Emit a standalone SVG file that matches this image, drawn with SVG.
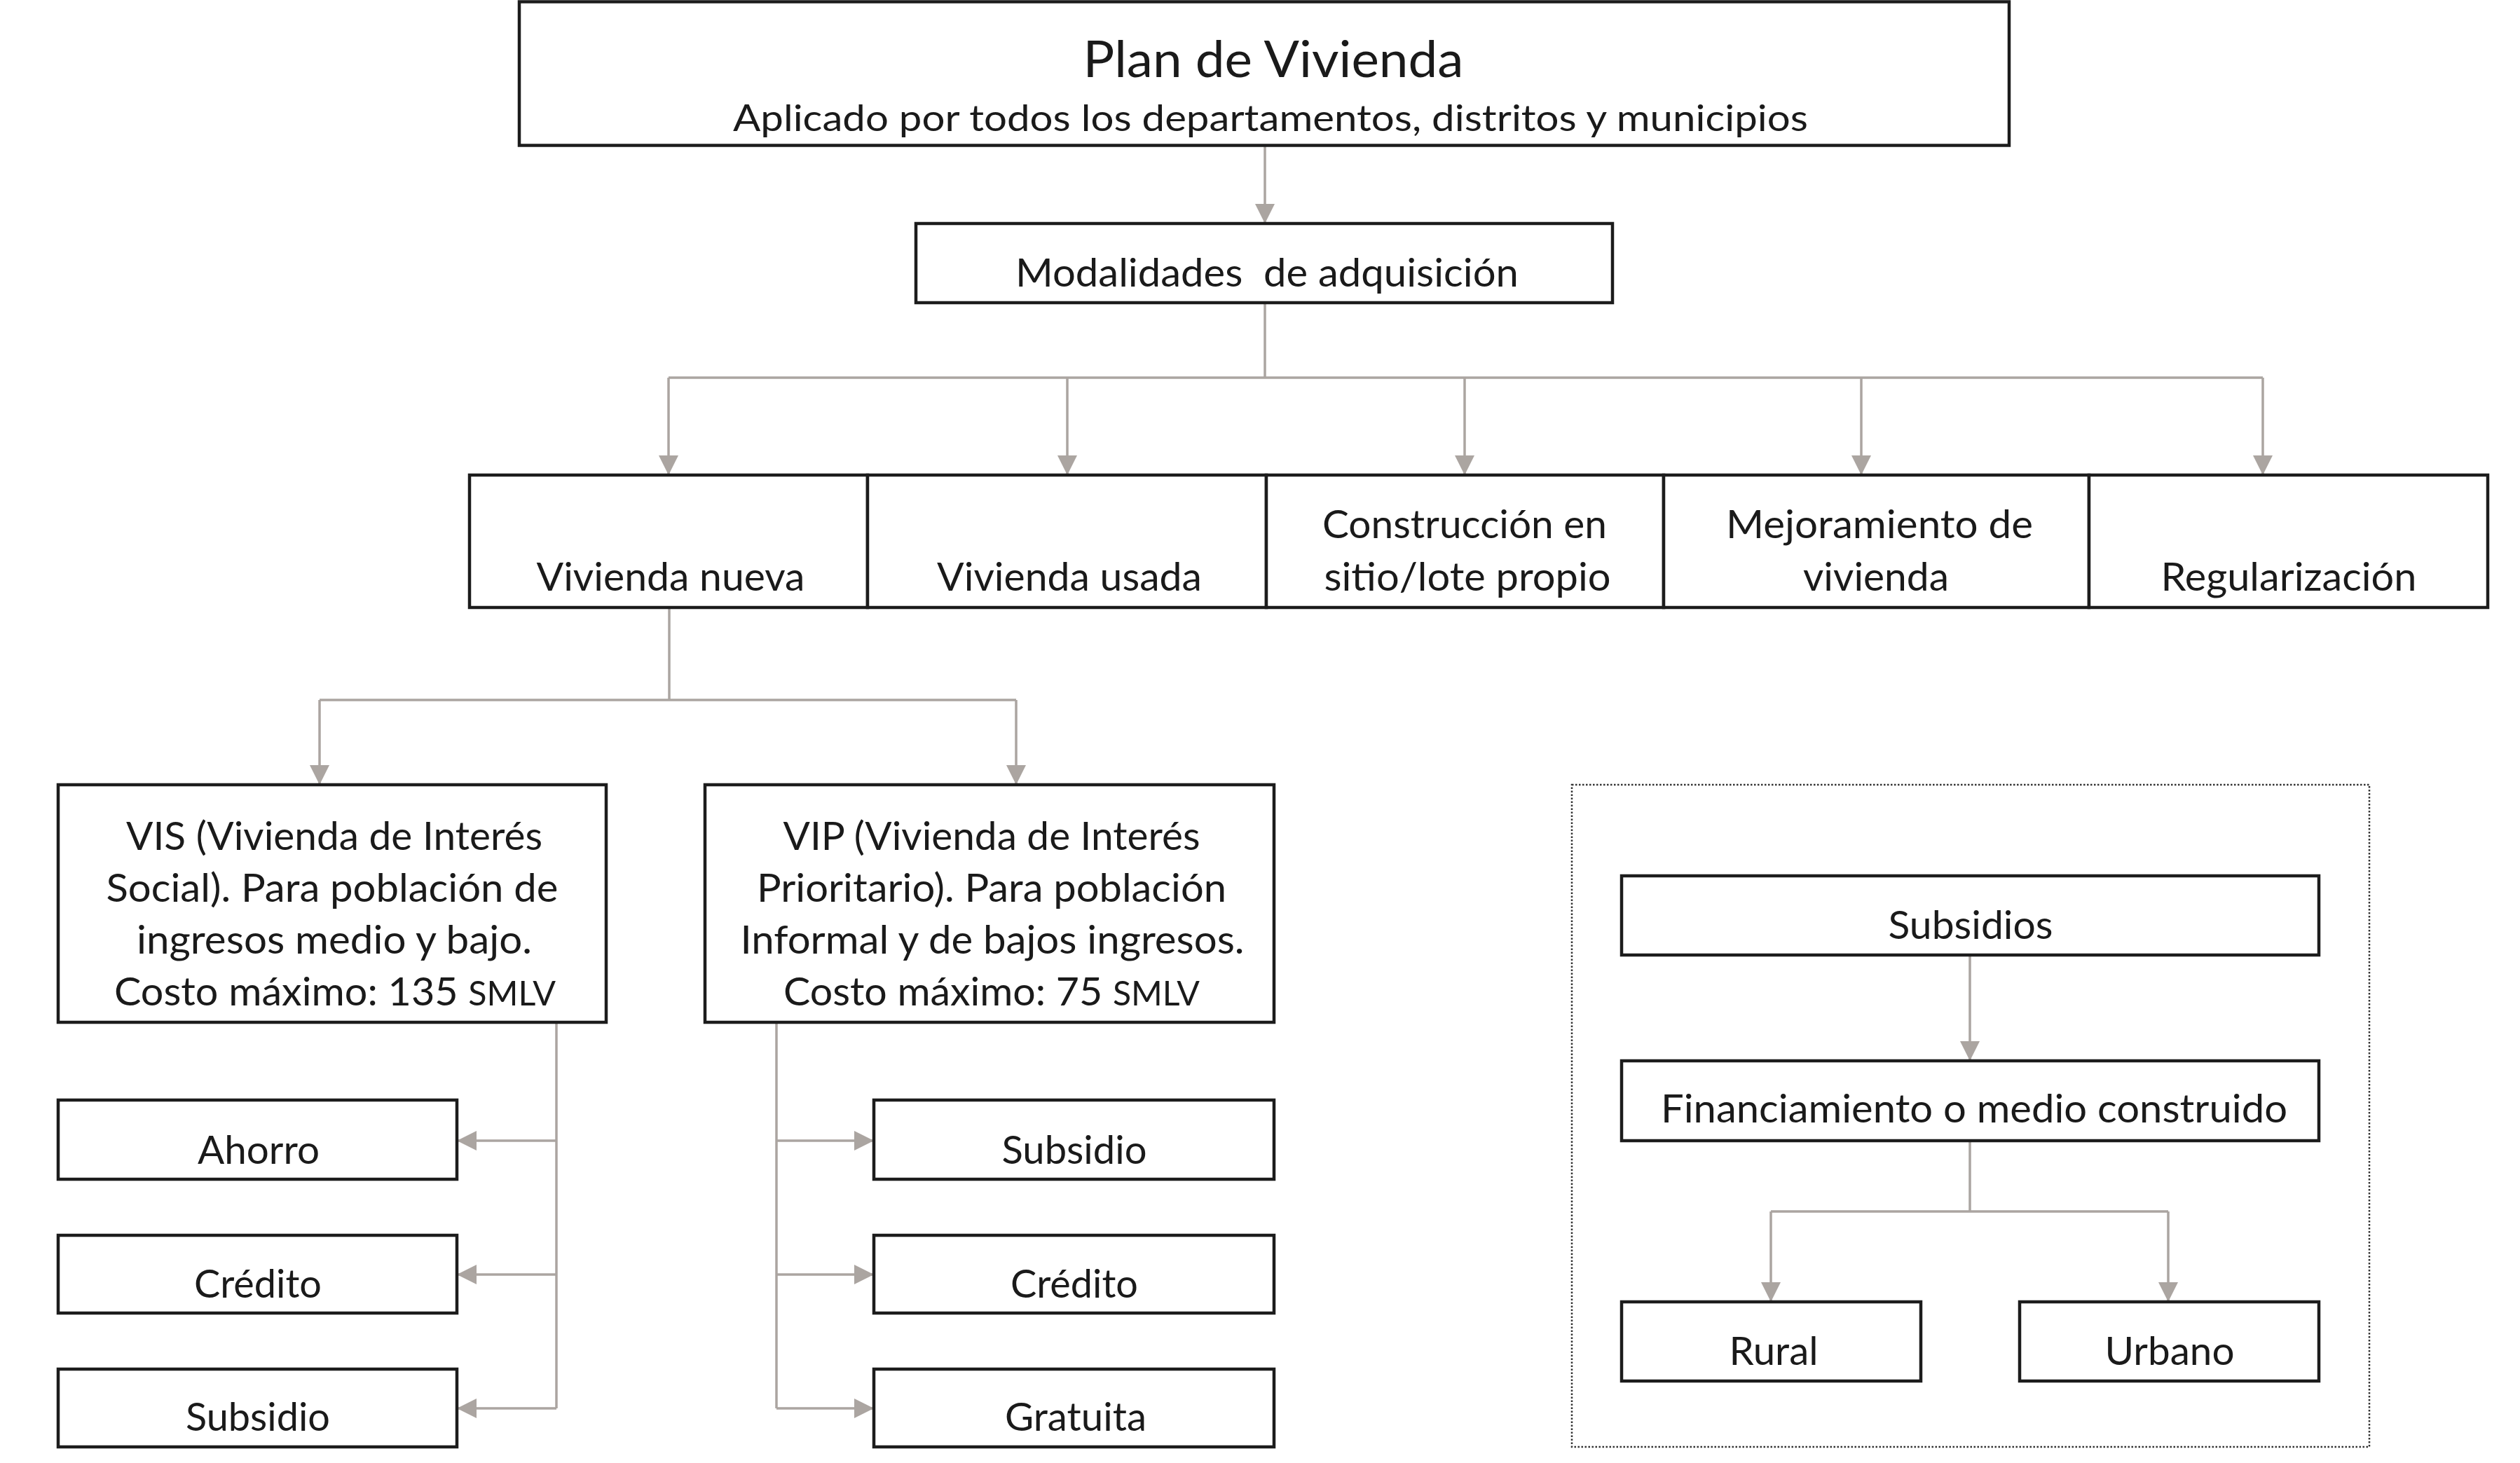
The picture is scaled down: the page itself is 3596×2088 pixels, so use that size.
<svg xmlns="http://www.w3.org/2000/svg" width="3596" height="2088" viewBox="0 0 3596 2088">
<style>
.box{fill:#fff;stroke:#1c1c1c;stroke-width:4.5}
.dot{fill:none;stroke:#333;stroke-width:2.5;stroke-dasharray:2.5 2.5}
.t{font-family:Lato,"Open Sans","Liberation Sans",sans-serif;font-size:57px;fill:#1a1a1a;text-anchor:middle}
.title{font-size:72px}
.sub{font-size:53px}
.sm{font-size:48px}
.con{fill:none;stroke:#aba5a1;stroke-width:3.5}
</style>
<defs>
<marker id="ah" viewBox="0 0 28 28" refX="28" refY="14" markerWidth="28" markerHeight="28" markerUnits="userSpaceOnUse" orient="auto">
<path d="M0,0 L28,14 L0,28 z" fill="#aba5a1"/>
</marker>
</defs>
<rect width="3596" height="2088" fill="#fff"/>

<g id="connectors">
<path class="con" d="M1805,209 V319" marker-end="url(#ah)"/>
<path class="con" d="M1805,431 V539 M954,539 H3229"/>
<path class="con" d="M954,539 V678" marker-end="url(#ah)"/>
<path class="con" d="M1523,539 V678" marker-end="url(#ah)"/>
<path class="con" d="M2090,539 V678" marker-end="url(#ah)"/>
<path class="con" d="M2656,539 V678" marker-end="url(#ah)"/>
<path class="con" d="M3229,539 V678" marker-end="url(#ah)"/>
<path class="con" d="M955,867 V999 M456,999 H1450"/>
<path class="con" d="M456,999 V1120" marker-end="url(#ah)"/>
<path class="con" d="M1450,999 V1120" marker-end="url(#ah)"/>
<path class="con" d="M794,1459 V2010"/>
<path class="con" d="M794,1628 H652" marker-end="url(#ah)"/>
<path class="con" d="M794,1819 H652" marker-end="url(#ah)"/>
<path class="con" d="M794,2010 H652" marker-end="url(#ah)"/>
<path class="con" d="M1108,1459 V2010"/>
<path class="con" d="M1108,1628 H1247" marker-end="url(#ah)"/>
<path class="con" d="M1108,1819 H1247" marker-end="url(#ah)"/>
<path class="con" d="M1108,2010 H1247" marker-end="url(#ah)"/>
<path class="con" d="M2811,1363 V1514" marker-end="url(#ah)"/>
<path class="con" d="M2811,1628 V1729 M2527,1729 H3094"/>
<path class="con" d="M2527,1729 V1858" marker-end="url(#ah)"/>
<path class="con" d="M3094,1729 V1858" marker-end="url(#ah)"/>
</g>

<g id="plan">
<rect class="box" x="741" y="2.5" width="2126" height="205" stroke-width="5"/>
<text class="t title" x="1817" y="110" textLength="543" lengthAdjust="spacingAndGlyphs">Plan de Vivienda</text>
<text class="t sub" x="1813" y="187" textLength="1534" lengthAdjust="spacingAndGlyphs">Aplicado por todos los departamentos, distritos y municipios</text>
</g>

<g id="modalidades">
<rect class="box" x="1307" y="319" width="994" height="113"/>
<text class="t" x="1808" y="409" textLength="718" lengthAdjust="spacingAndGlyphs" xml:space="preserve">Modalidades  de adquisición</text>
</g>

<g id="vivienda-nueva">
<rect class="box" x="670" y="678" width="568" height="189"/>
<text class="t" x="957" y="843" textLength="383" lengthAdjust="spacingAndGlyphs">Vivienda nueva</text>
</g>
<g id="vivienda-usada">
<rect class="box" x="1238" y="678" width="569" height="189"/>
<text class="t" x="1526" y="843" textLength="378" lengthAdjust="spacingAndGlyphs">Vivienda usada</text>
</g>
<g id="construccion">
<rect class="box" x="1807" y="678" width="567" height="189"/>
<text class="t" x="2090" y="768" textLength="406" lengthAdjust="spacingAndGlyphs">Construcción en</text>
<text class="t" x="2094" y="843" textLength="409" lengthAdjust="spacingAndGlyphs">sitio/lote propio</text>
</g>
<g id="mejoramiento">
<rect class="box" x="2374" y="678" width="607" height="189"/>
<text class="t" x="2682" y="768" textLength="438" lengthAdjust="spacingAndGlyphs">Mejoramiento de</text>
<text class="t" x="2677" y="843" textLength="208" lengthAdjust="spacingAndGlyphs">vivienda</text>
</g>
<g id="regularizacion">
<rect class="box" x="2981" y="678" width="569" height="189"/>
<text class="t" x="3266" y="843" textLength="365" lengthAdjust="spacingAndGlyphs">Regularización</text>
</g>

<g id="vis">
<rect class="box" x="83" y="1120" width="782" height="339"/>
<text class="t" x="477" y="1213" textLength="594" lengthAdjust="spacingAndGlyphs">VIS (Vivienda de Interés</text>
<text class="t" x="474" y="1287" textLength="645" lengthAdjust="spacingAndGlyphs">Social). Para población de</text>
<text class="t" x="477" y="1361" textLength="564" lengthAdjust="spacingAndGlyphs">ingresos medio y bajo.</text>
<text class="t" x="478" y="1435" textLength="630" lengthAdjust="spacingAndGlyphs">Costo máximo: 135 <tspan class="sm">SMLV</tspan></text>
</g>

<g id="vip">
<rect class="box" x="1006" y="1120" width="812" height="339"/>
<text class="t" x="1415" y="1213" textLength="595" lengthAdjust="spacingAndGlyphs">VIP (Vivienda de Interés</text>
<text class="t" x="1415" y="1287" textLength="670" lengthAdjust="spacingAndGlyphs">Prioritario). Para población</text>
<text class="t" x="1416" y="1361" textLength="719" lengthAdjust="spacingAndGlyphs">Informal y de bajos ingresos.</text>
<text class="t" x="1415" y="1435" textLength="594" lengthAdjust="spacingAndGlyphs">Costo máximo: 75 <tspan class="sm">SMLV</tspan></text>
</g>

<g id="vis-ahorro">
<rect class="box" x="83" y="1570" width="569" height="113"/>
<text class="t" x="369" y="1661" textLength="174" lengthAdjust="spacingAndGlyphs">Ahorro</text>
</g>
<g id="vis-credito">
<rect class="box" x="83" y="1763" width="569" height="111"/>
<text class="t" x="368" y="1852" textLength="182" lengthAdjust="spacingAndGlyphs">Crédito</text>
</g>
<g id="vis-subsidio">
<rect class="box" x="83" y="1954" width="569" height="111"/>
<text class="t" x="368" y="2042" textLength="206" lengthAdjust="spacingAndGlyphs">Subsidio</text>
</g>

<g id="vip-subsidio">
<rect class="box" x="1247" y="1570" width="571" height="113"/>
<text class="t" x="1533" y="1661" textLength="207" lengthAdjust="spacingAndGlyphs">Subsidio</text>
</g>
<g id="vip-credito">
<rect class="box" x="1247" y="1763" width="571" height="111"/>
<text class="t" x="1533" y="1852" textLength="182" lengthAdjust="spacingAndGlyphs">Crédito</text>
</g>
<g id="vip-gratuita">
<rect class="box" x="1247" y="1954" width="571" height="111"/>
<text class="t" x="1535" y="2042" textLength="202" lengthAdjust="spacingAndGlyphs">Gratuita</text>
</g>

<g id="panel">
<rect class="dot" x="2243" y="1120" width="1138" height="945"/>
</g>
<g id="subsidios">
<rect class="box" x="2314" y="1250" width="995" height="113"/>
<text class="t" x="2812" y="1340" textLength="235" lengthAdjust="spacingAndGlyphs">Subsidios</text>
</g>
<g id="financiamiento">
<rect class="box" x="2314" y="1514" width="995" height="114"/>
<text class="t" x="2817" y="1602" textLength="894" lengthAdjust="spacingAndGlyphs">Financiamiento o medio construido</text>
</g>
<g id="rural">
<rect class="box" x="2314" y="1858" width="427" height="113"/>
<text class="t" x="2531" y="1948" textLength="127" lengthAdjust="spacingAndGlyphs">Rural</text>
</g>
<g id="urbano">
<rect class="box" x="2882" y="1858" width="427" height="113"/>
<text class="t" x="3096" y="1948" textLength="185" lengthAdjust="spacingAndGlyphs">Urbano</text>
</g>
</svg>
